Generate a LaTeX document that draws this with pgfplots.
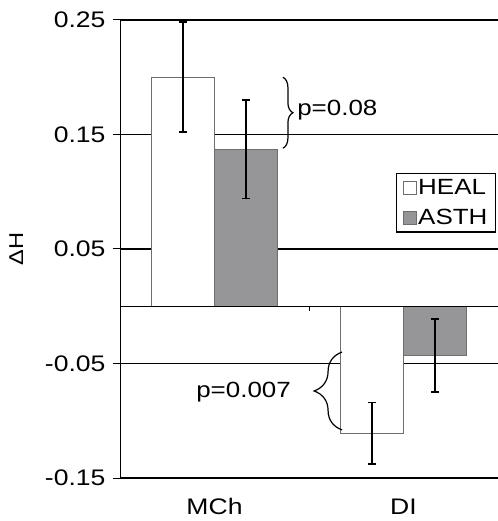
\documentclass[border=0pt]{standalone}
\usepackage{fontspec}
\setmainfont[FakeStretch=1.18]{Liberation Sans}
\usepackage{pgfplots}
\pgfplotsset{compat=1.18}
\usetikzlibrary{decorations.pathreplacing}
\definecolor{asth}{RGB}{150,150,152}
\definecolor{edge}{RGB}{110,110,110}
\begin{document}
\begin{tikzpicture}
\path[use as bounding box] (0,0) rectangle (498bp,521bp);
\begin{axis}[
  at={(120bp,43bp)}, anchor=south west,
  scale only axis, width=378bp, height=458bp,
  xmin=-0.5, xmax=1.5, ymin=-0.15, ymax=0.25,
  ybar=0pt, bar width=63bp,
  axis y line*=left, axis x line*=bottom,
  x axis line style={draw=none,-},
  y axis line style={-, line width=0.9bp, black},
  xtick={0,1}, xticklabels={MCh,DI},
  xtick style={draw=none},
  ytick={-0.15,-0.05,0.05,0.15,0.25},
  yticklabels={-0.15,-0.05,0.05,0.15,0.25},
  major tick length=7bp, tick align=outside,
  ytick style={black, line width=1bp},
  ymajorgrids, major grid style={black, line width=1.7bp},
  ticklabel style={font=\fontsize{22.5bp}{26bp}\selectfont},
  xticklabel style={yshift=-10bp},
  yticklabel style={xshift=-4bp},
  ylabel={ΔH}, ylabel style={font=\fontsize{20bp}{22bp}\selectfont, yshift=15bp},
  legend style={at={(0.730,0.666)}, anchor=north west, draw=black, line width=1.2bp,
    font=\fontsize{22bp}{26bp}\selectfont, inner xsep=6bp, inner ysep=4bp, row sep=9bp,
    cells={anchor=west}},
  legend image code/.code={\draw[#1, line width=0.7bp] (0bp,-6.5bp) rectangle (13bp,6.5bp);},
  error bars/y dir=both, error bars/y explicit,
  error bars/error bar style={line width=1.6bp, black},
  error bars/error mark options={rotate=90, mark size=4bp, line width=1.6bp, black},
]
\addplot[fill=white, draw=edge, line width=0.7bp] coordinates {
  (0, 0.200) +- (0, 0.048)
  (1, -0.111) +- (0, 0.027)
};
\addlegendentry{HEAL}
\addplot[fill=asth, draw=edge, line width=0.7bp] coordinates {
  (0, 0.137) +- (0, 0.043)
  (1, -0.043) +- (0, 0.032)
};
\addlegendentry{ASTH}
\draw[black, line width=1.4bp] (axis cs:-0.5,0) -- (axis cs:1.5,0);
\draw[black, line width=1bp] (axis cs:0.5,0) -- ([yshift=-5bp]axis cs:0.5,0);
\draw[decorate, decoration={brace, amplitude=10bp}, line width=1.2bp]
  (axis cs:0.362,0.200) -- (axis cs:0.362,0.138);
\node[anchor=west, font=\fontsize{22bp}{26bp}\selectfont, inner sep=0pt] at (axis cs:0.437,0.171) {p=0.08};
\draw[decorate, decoration={brace, amplitude=28bp}, line width=1.2bp]
  (axis cs:0.675,-0.108) -- (axis cs:0.675,-0.040);
\node[anchor=east, font=\fontsize{22bp}{26bp}\selectfont, inner sep=0pt] at (axis cs:0.405,-0.075) {p=0.007};
\end{axis}
\end{tikzpicture}
\end{document}
